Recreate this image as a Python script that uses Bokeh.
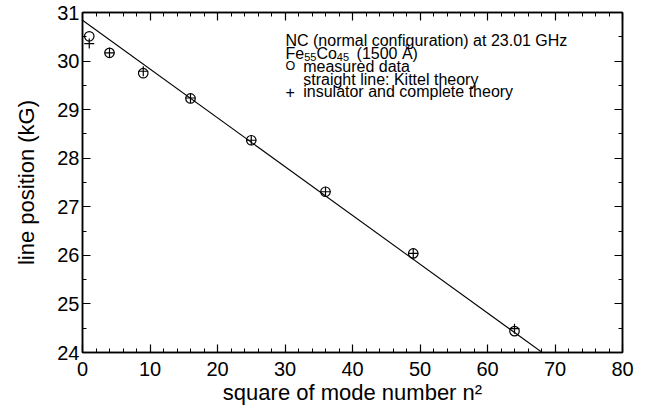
from bokeh.plotting import figure
from bokeh.models import Range1d, LinearAxis, SingleIntervalTicker, Label
from bokeh.embed import file_html
from bokeh.resources import INLINE

# ---- data ----
n_squared = [1, 4, 9, 16, 25, 36, 49, 64]
measured = [30.51, 30.17, 29.75, 29.23, 28.37, 27.31, 26.04, 24.44]
complete_theory = [30.36, 30.17, 29.79, 29.24, 28.37, 27.31, 26.04, 24.49]
kittel_x = [0, 70]
kittel_y = [30.84, 23.81]

x_title = "square of mode number n²"
y_title = "line position (kG)"
header_line = "NC (normal configuration) at 23.01 GHz"
sample_parts = ["Fe", "55", "Co", "45", "(1500 Å)"]
legend_symbols = ["O", "", "+"]
legend_texts = ["measured data", "straight line: Kittel theory", "insulator and complete theory"]

FONT = "Liberation Sans"

p = figure(width=651, height=407,
           x_range=Range1d(0, 80), y_range=Range1d(24, 31),
           output_backend="svg", toolbar_location=None,
           min_border_left=82, min_border_right=29,
           min_border_top=12, min_border_bottom=55)
p.grid.visible = False
p.outline_line_color = "black"
p.outline_line_width = 1.5
p.background_fill_color = "white"
p.border_fill_color = "white"


def style_axis(ax, labels=True):
    ax.major_tick_in = 8
    ax.major_tick_out = 0
    ax.minor_tick_in = 4
    ax.minor_tick_out = 0
    ax.axis_line_width = 1.5
    ax.axis_line_color = "black"
    ax.major_tick_line_color = "black"
    ax.minor_tick_line_color = "black"
    ax.major_tick_line_width = 1.2
    ax.minor_tick_line_width = 1.0
    if labels:
        ax.major_label_text_font = FONT
        ax.major_label_text_font_size = "20px"
        ax.major_label_text_color = "black"
        ax.axis_label_text_font = FONT
        ax.axis_label_text_font_size = "22px"
        ax.axis_label_text_font_style = "normal"
        ax.axis_label_text_color = "black"
    else:
        ax.major_label_text_color = None
        ax.major_label_text_font_size = "1px"
        ax.major_label_standoff = 0


xa = p.xaxis[0]
xa.ticker = SingleIntervalTicker(interval=10, num_minor_ticks=5)
style_axis(xa)
xa.major_label_standoff = 9
xa.axis_label = x_title
xa.axis_label_standoff = 1

ya = p.yaxis[0]
ya.ticker = SingleIntervalTicker(interval=1, num_minor_ticks=2)
style_axis(ya)
ya.major_label_standoff = 3
ya.axis_label = y_title
ya.axis_label_standoff = 15

top = LinearAxis(ticker=SingleIntervalTicker(interval=10, num_minor_ticks=5))
style_axis(top, labels=False)
p.add_layout(top, "above")
right = LinearAxis(ticker=SingleIntervalTicker(interval=1, num_minor_ticks=2))
style_axis(right, labels=False)
p.add_layout(right, "right")

# Kittel straight line
p.line(kittel_x, kittel_y, line_color="black", line_width=1.1)
# measured data (open circles) and complete theory (plus)
p.scatter(n_squared, measured, marker="circle", size=9.5, fill_color=None,
          line_color="black", line_width=1.2)
p.scatter(n_squared, complete_theory, marker="cross", size=10,
          line_color="black", line_width=1.2)


def add_text(x, y, t, size="16px", baseline="middle"):
    p.add_layout(Label(x=x, y=y, text=t, text_align="left",
                       text_baseline=baseline, text_font=FONT,
                       text_font_size=size, text_color="black"))


# annotation block
line_y = [30.43, 30.15, 29.89, 29.63, 29.37]
add_text(30.07, line_y[0], header_line)
# Fe55Co45 (1500 Å) with subscripts
sub_x = [30.07, 32.85, 34.65, 37.67, 40.6]
for k, part in enumerate(sample_parts):
    if k in (1, 3):
        add_text(sub_x[k], line_y[1] - 0.07, part, size="11px")
    else:
        add_text(sub_x[k], line_y[1], part)
for i, (s, t) in enumerate(zip(legend_symbols, legend_texts)):
    yy = line_y[i + 2]
    if s:
        add_text(30.07, yy, s, size="12.5px" if s == "O" else "16px")
    add_text(32.7, yy, t)

open("out.html", "w").write(file_html(p, INLINE))
